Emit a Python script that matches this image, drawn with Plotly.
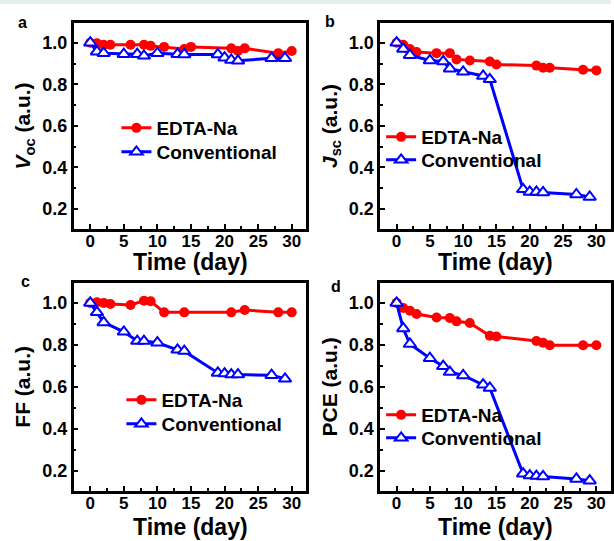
import plotly.graph_objects as go

W, H = 614, 541

days_edta_a = [0, 1, 2, 3, 6, 8, 9, 11, 14, 15, 21, 22, 23, 28, 30]
voc_edta = [1.0, 0.997, 0.99, 0.99, 0.99, 0.99, 0.985, 0.98, 0.97, 0.98, 0.973, 0.96, 0.973, 0.95, 0.96]
days_conv = [0, 1, 2, 5, 7, 8, 10, 13, 14, 19, 20, 21, 22, 27, 29]
voc_conv = [1.0, 0.957, 0.95, 0.945, 0.945, 0.937, 0.95, 0.945, 0.944, 0.944, 0.928, 0.917, 0.913, 0.926, 0.926]

days_edta = [0, 1, 2, 3, 6, 8, 9, 11, 14, 15, 21, 22, 23, 28, 30]
jsc_edta = [1.0, 0.99, 0.97, 0.955, 0.95, 0.95, 0.92, 0.915, 0.91, 0.895, 0.89, 0.88, 0.88, 0.87, 0.867]
jsc_conv = [1.0, 0.97, 0.94, 0.915, 0.91, 0.875, 0.86, 0.84, 0.824, 0.295, 0.282, 0.282, 0.28, 0.27, 0.258]

days_edta_c = [0, 1, 2, 3, 6, 8, 9, 11, 14, 21, 23, 28, 30]
ff_edta = [1.0, 1.003, 1.0, 0.995, 0.99, 1.01, 1.008, 0.955, 0.955, 0.955, 0.966, 0.955, 0.955]
ff_conv = [1.0, 0.955, 0.907, 0.862, 0.818, 0.818, 0.81, 0.776, 0.77, 0.666, 0.663, 0.658, 0.658, 0.655, 0.638]

pce_edta = [1.0, 0.976, 0.963, 0.947, 0.93, 0.928, 0.912, 0.904, 0.843, 0.84, 0.818, 0.81, 0.798, 0.798, 0.798]
pce_conv = [1.0, 0.878, 0.804, 0.736, 0.698, 0.67, 0.654, 0.61, 0.594, 0.185, 0.176, 0.174, 0.172, 0.16, 0.152]

series_names = ["EDTA-Na", "Conventional"]
y_titles = ["<i>V</i><sub>oc</sub> (a.u.)", "<i>J</i><sub>sc</sub> (a.u.)", "FF (a.u.)", "PCE (a.u.)"]
x_title = "Time (day)"
panel_labels = ["a", "b", "c", "d"]

panels = [
    (days_edta_a, voc_edta, days_conv, voc_conv),
    (days_edta, jsc_edta, days_conv, jsc_conv),
    (days_edta_c, ff_edta, days_conv, ff_conv),
    (days_edta, pce_edta, days_conv, pce_conv),
]

FONT = "Liberation Sans, Arial, sans-serif"
RED = "#ff0000"
BLUE = "#0000ff"

def px_x(p):
    return p / W

def px_y(p):
    return 1 - p / H

xdom = [[px_x(74), px_x(308)], [px_x(382), 1.0]]
ydom = [[px_y(229), px_y(23)], [px_y(490.7), px_y(283)]]
xcenters = [(74 + 308) / 2, (382 + 614) / 2]
xtitle_y = [262, 527]

# legend rows (pixel positions): line-sample start x, row centre y for EDTA / Conventional
legend_x = [117, 383, 122, 383]
legend_rows = [(128, 152), (137, 160), (400, 424), (415, 438)]

fig = go.Figure()

layout = dict(
    width=W, height=H,
    margin=dict(l=0, r=0, t=0, b=0),
    paper_bgcolor="white", plot_bgcolor="white",
    font=dict(family=FONT, color="black", size=18, weight="bold"),
    showlegend=True,
)

for i, (xe, ye, xc, yc) in enumerate(panels):
    n = i + 1
    xa = "x" if n == 1 else f"x{n}"
    ya = "y" if n == 1 else f"y{n}"
    lg1 = "legend" if i == 0 else f"legend{2 * i + 1}"
    lg2 = f"legend{2 * i + 2}"
    fig.add_trace(go.Scatter(
        x=xe, y=ye, mode="lines+markers", name=series_names[0],
        line=dict(color=RED, width=3),
        marker=dict(symbol="circle", size=10, color=RED),
        xaxis=xa, yaxis=ya, legend=lg1))
    fig.add_trace(go.Scatter(
        x=xc, y=yc, mode="lines+markers", name=series_names[1],
        line=dict(color=BLUE, width=3),
        marker=dict(symbol="triangle-up", size=11, color="white",
                    line=dict(color=BLUE, width=2)),
        xaxis=xa, yaxis=ya, legend=lg2))
    for lk, ry in zip((lg1, lg2), legend_rows[i]):
        layout[lk] = dict(
            x=px_x(legend_x[i]), y=px_y(ry), xanchor="left", yanchor="middle",
            xref="paper", yref="paper", bgcolor="rgba(0,0,0,0)", borderwidth=0,
            font=dict(family=FONT, size=19, weight="bold", color="black"),
            itemwidth=30,
        )

for i in range(4):
    n = i + 1
    col = i % 2
    row = i // 2
    xk = "xaxis" if n == 1 else f"xaxis{n}"
    yk = "yaxis" if n == 1 else f"yaxis{n}"
    ya_name = "y" if n == 1 else f"y{n}"
    xa_name = "x" if n == 1 else f"x{n}"
    layout[xk] = dict(
        domain=xdom[col], anchor=ya_name, range=[-2.47, 32.2],
        tick0=0, dtick=5, ticks="inside", ticklen=5, tickwidth=2,
        tickcolor="black", showline=True, linecolor="black", linewidth=2.5,
        mirror=True, showgrid=False, zeroline=False, ticklabelstandoff=-5,
        tickfont=dict(family=FONT, size=17, weight="bold"),
        minor=dict(dtick=2.5, ticks="inside", ticklen=3, tickwidth=2, tickcolor="black", showgrid=False),
    )
    layout[yk] = dict(
        domain=ydom[row], anchor=xa_name, range=[0.104, 1.095],
        tick0=0, dtick=0.2, tickformat=".1f", ticks="inside", ticklen=5, tickwidth=2,
        tickcolor="black", showline=True, linecolor="black", linewidth=2.5,
        mirror=True, showgrid=False, zeroline=False,
        tickfont=dict(family=FONT, size=18, weight="bold"),
        minor=dict(dtick=0.1, ticks="inside", ticklen=3, tickwidth=2, tickcolor="black", showgrid=False),
        title=dict(text=y_titles[i], font=dict(family=FONT, size=21, weight="bold"), standoff=6),
    )

fig.update_layout(**layout)

# x-axis titles placed as annotations under each panel
for i in range(4):
    col = i % 2
    row = i // 2
    fig.add_annotation(text=x_title, x=px_x(xcenters[col]), y=px_y(xtitle_y[row]),
                       xref="paper", yref="paper", showarrow=False,
                       xanchor="center", yanchor="middle",
                       font=dict(family=FONT, size=23, weight="bold", color="black"))

label_pos = [(22.5, 22.5), (332, 22), (25.5, 281), (337.5, 286)]
for lab, (lx, ly) in zip(panel_labels, label_pos):
    fig.add_annotation(text=lab, x=px_x(lx), y=px_y(ly), xref="paper", yref="paper",
                       showarrow=False, xanchor="center", yanchor="middle",
                       font=dict(family=FONT, size=16, weight="bold", color="black"))

fig.add_shape(type="rect", xref="paper", yref="paper", x0=0, x1=1, y0=px_y(4), y1=1,
              fillcolor="#e3f1e9", line=dict(width=0), layer="below")

fig.write_html("out.html", config={"displayModeBar": False},
               post_script="document.body.style.margin='0';document.body.style.overflow='hidden';")
